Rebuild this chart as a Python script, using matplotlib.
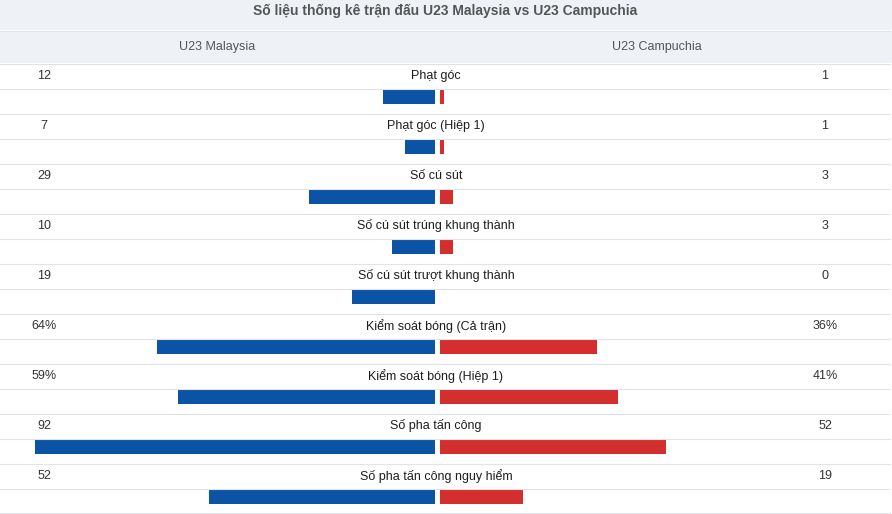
import matplotlib
matplotlib.use("Agg")
import matplotlib.pyplot as plt
from matplotlib.patches import Rectangle

title = "Số liệu thống kê trận đấu U23 Malaysia vs U23 Campuchia"
team_left = "U23 Malaysia"
team_right = "U23 Campuchia"
stats = ["Phạt góc", "Phạt góc (Hiệp 1)", "Số cú sút", "Số cú sút trúng khung thành",
         "Số cú sút trượt khung thành", "Kiểm soát bóng (Cả trận)", "Kiểm soát bóng (Hiệp 1)",
         "Số pha tấn công", "Số pha tấn công nguy hiểm"]
left_vals = [12, 7, 29, 10, 19, 64, 59, 92, 52]
right_vals = [1, 1, 3, 3, 0, 36, 41, 52, 19]
left_labels = ["12", "7", "29", "10", "19", "64%", "59%", "92", "52"]
right_labels = ["1", "1", "3", "3", "0", "36%", "41%", "52", "19"]

BLUE = "#0b53a5"
RED = "#d32f2f"
BAND = "#eef2f6"
LINE = "#e0e4e9"

W, H = 892, 514
CX = 437.5
SCALE = 400 / 92.0  # pixels per unit

fig = plt.figure(figsize=(W / 100, H / 100), dpi=100)
ax = fig.add_axes([0, 0, 1, 1])
ax.set_xlim(-CX / SCALE, (W - CX) / SCALE)
ax.set_ylim(H, 0)
ax.axis("off")

def px(x):
    return (x - CX) / SCALE

FONT = ["Liberation Sans", "DejaVu Sans"]

# header bands
ax.add_patch(Rectangle((px(0), 0), W / SCALE, 30, facecolor=BAND, edgecolor="none"))
ax.add_patch(Rectangle((px(0), 31), W / SCALE, 32, facecolor=BAND, edgecolor="none"))
ax.plot([px(0), px(890)], [30.5, 30.5], color="#dde3ea", lw=0.8)
ax.plot([px(0), px(890)], [63.5, 63.5], color="#dde3ea", lw=0.8)

ax.text(px(445), 11, title, ha="center", va="center", fontsize=10, fontweight="bold",
        color="#555555", family=FONT)
ax.text(px(217), 47, team_left, ha="center", va="center", fontsize=9,
        color="#555555", family=FONT)
ax.text(px(657), 47, team_right, ha="center", va="center", fontsize=9,
        color="#555555", family=FONT)

gap = 2.5 / SCALE
for i, (s, lv, rv, ll, rl) in enumerate(zip(stats, left_vals, right_vals, left_labels, right_labels)):
    top = 63 + 50 * i
    ax.plot([px(0), px(890)], [top + 25.5, top + 25.5], color=LINE, lw=0.8)
    yb = min(top + 50.5, H - 1.2)
    ax.plot([px(0), px(890)], [yb, yb], color=LINE, lw=0.8)
    ty = top + 13
    ax.text(px(44), ty, ll, ha="center", va="center", fontsize=9, color="#333333", family=FONT)
    ax.text(px(825), ty, rl, ha="center", va="center", fontsize=9, color="#333333", family=FONT)
    ax.text(px(436), ty, s, ha="center", va="center", fontsize=9, color="#1e1e1e", family=FONT)
    by = top + 34
    ax.barh(by, -lv, left=-gap, height=14, color=BLUE)
    ax.barh(by, rv, left=gap, height=14, color=RED)

fig.savefig("out.png", dpi=100, facecolor="white")
